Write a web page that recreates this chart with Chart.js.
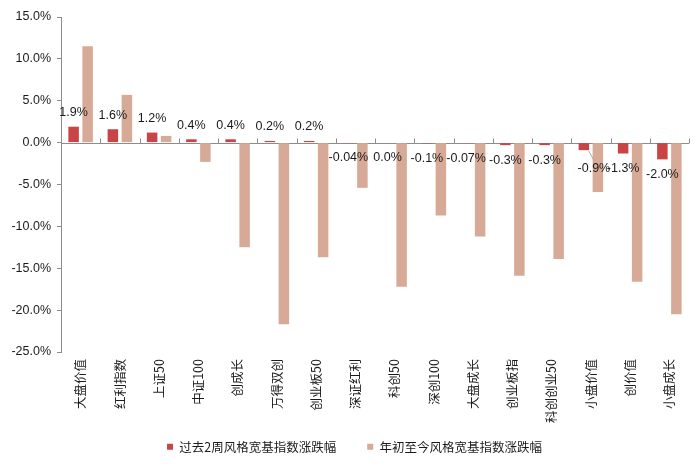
<!DOCTYPE html>
<html>
<head>
<meta charset="utf-8">
<script src="https://cdn.jsdelivr.net/npm/chart.js@4"></script>
<style>
    html, body { margin: 0; padding: 0; background: #fff; }
    #wrap { width: 700px; height: 466px; }
</style>
</head>
<body>
<div id="wrap"><canvas id="barChart" width="700" height="466"></canvas></div>
<script>
const categories = ['大盘价值', '红利指数', '上证50', '中证100', '创成长', '万得双创', '创业板50', '深证红利',
    '科创50', '深创100', '大盘成长', '创业板指', '科创创业50', '小盘价值', '创价值', '小盘成长'];
const twoWeekChange = [1.9, 1.6, 1.2, 0.4, 0.4, 0.2, 0.2, -0.04, 0.0, -0.1, -0.07, -0.3, -0.3, -0.9, -1.3, -2.0];
const ytdChange = [11.5, 5.7, 0.8, -2.3, -12.5, -21.7, -13.7, -5.4, -17.2, -8.7, -11.2, -15.9, -13.9, -5.9, -16.6, -20.5];
const seriesNames = ['过去2周风格宽基指数涨跌幅', '年初至今风格宽基指数涨跌幅'];

const NUM_FONT = '"Liberation Sans", Arial, sans-serif';
const CJK_FONT = '"Noto Sans CJK SC", "Liberation Sans", sans-serif';

function fmtPct(v) {
    const d = (v !== 0 && Math.abs(v) < 0.1) ? 2 : 1;
    return v.toFixed(d) + '%';
}

// 零轴 + 分类刻度
const zeroAxis = {
    id: 'zeroAxis',
    afterLayout(chart) {
        // 图例整体右移一点
        chart.legend.left += 10;
        chart.legend.right += 10;
    },
    beforeDatasetsDraw(chart) {
        const { ctx, chartArea, scales: { y } } = chart;
        const y0 = Math.round(y.getPixelForValue(0)) + 0.5;
        const step = (chartArea.right - chartArea.left) / categories.length;
        ctx.save();
        ctx.strokeStyle = '#8c8c8c';
        ctx.lineWidth = 1;
        ctx.beginPath();
        ctx.moveTo(chartArea.left, y0);
        ctx.lineTo(chartArea.right, y0);
        for (let i = 1; i <= categories.length; i++) {
            const xx = Math.round(chartArea.left + i * step) + 0.5;
            ctx.moveTo(xx, y0);
            ctx.lineTo(xx, y0 - 5);
        }
        ctx.stroke();
        ctx.restore();
    }
};

// 数据标签(只标第一组)
const barLabels = {
    id: 'barLabels',
    afterDatasetsDraw(chart) {
        const { ctx } = chart;
        const meta = chart.getDatasetMeta(0);
        const nudge = { 13: [10, 3] };
        ctx.save();
        ctx.font = '12.5px ' + NUM_FONT;
        ctx.fillStyle = '#1a1a1a';
        ctx.textAlign = 'center';
        ctx.textBaseline = 'middle';
        for (let i = meta.data.length - 1; i >= 0; i--) {
            const bar = meta.data[i];
            const v = twoWeekChange[i];
            let tx = bar.x;
            let ty = v > 0 ? bar.y - 14 : bar.y + 15;
            if (nudge[i]) {
                tx += nudge[i][0];
                ty += nudge[i][1];
                ctx.strokeStyle = '#a6a6a6';
                ctx.beginPath();
                ctx.moveTo(bar.x + 5, bar.y + 1);
                ctx.lineTo(tx, ty - 8);
                ctx.stroke();
            }
            ctx.fillText(fmtPct(v), tx, ty);
        }
        ctx.restore();
    }
};

new Chart(document.getElementById('barChart').getContext('2d'), {
    type: 'bar',
    data: {
        labels: categories,
        datasets: [{
            label: seriesNames[0],
            data: twoWeekChange,
            backgroundColor: '#c94545'
        }, {
            label: seriesNames[1],
            data: ytdChange,
            backgroundColor: '#d7aa98'
        }]
    },
    options: {
        responsive: false,
        animation: false,
        categoryPercentage: 0.714,
        barPercentage: 0.75,
        layout: { padding: { top: 17, right: 11, left: 0, bottom: 3 } },
        plugins: {
            legend: {
                position: 'bottom',
                labels: {
                    boxWidth: 6,
                    boxHeight: 6,
                    padding: 31,
                    color: '#1a1a1a',
                    font: { family: CJK_FONT, size: 12.5 }
                }
            },
            tooltip: { enabled: false }
        },
        scales: {
            x: {
                grid: { display: false, drawTicks: false },
                border: { display: false },
                ticks: {
                    autoSkip: false,
                    minRotation: 90,
                    maxRotation: 90,
                    padding: 7,
                    color: '#1a1a1a',
                    font: { family: CJK_FONT, size: 12.5 }
                },
                afterFit(scale) {
                    scale.height = 57.5;
                    // 标签比轴高,不要裁掉
                    scale._computeLabelArea = () => undefined;
                }
            },
            y: {
                min: -25,
                max: 15,
                grid: { drawOnChartArea: false, color: '#8c8c8c', tickLength: 4 },
                border: { color: '#8c8c8c' },
                ticks: {
                    stepSize: 5,
                    padding: 6,
                    color: '#1a1a1a',
                    font: { family: NUM_FONT, size: 12.5 },
                    callback: v => v.toFixed(1) + '%'
                },
                afterFit(scale) { scale.width = 61; }
            }
        }
    },
    plugins: [zeroAxis, barLabels]
});
</script>
</body>
</html>
